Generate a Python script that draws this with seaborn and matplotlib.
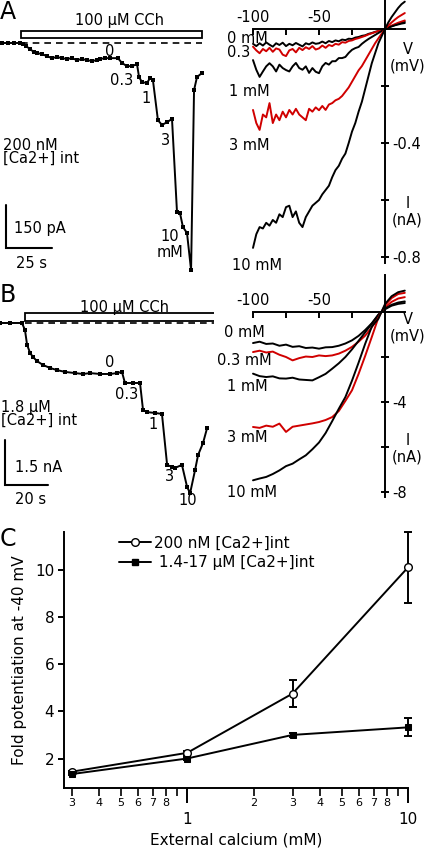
import pandas as pd
import seaborn as sns
import matplotlib
matplotlib.use("Agg")
from matplotlib import pyplot as plt
from matplotlib.patches import Rectangle
from matplotlib.lines import Line2D
from matplotlib.ticker import FixedLocator, FixedFormatter

# ---------------- data ----------------
# A: whole-cell current, 200 nM internal Ca2+ (time in s, current in pA)
trace_a_time = [0, 3.2, 6.5, 9.7, 11.3, 13.0, 15.1, 17.3, 18.9, 21.6,
                24.3, 27.0, 29.7, 32.4, 35.1, 37.8, 40.5, 43.2, 45.9, 48.6,
                51.3, 52.9, 55.6, 58.3, 62.6, 64.8, 67.5, 70.2, 72.9, 74.0,
                75.6, 78.3, 79.9, 81.5, 84.2, 86.4, 89.1, 91.8, 94.5, 96.1,
                97.7, 99.9, 102.1, 103.7, 105.3, 108.0]
trace_a_pA = [0, 0, 0, 0, -4, -11, -21, -32, -35, -39,
              -46, -53, -49, -53, -56, -53, -60, -56, -60, -63,
              -60, -56, -53, -53, -53, -70, -81, -81, -74, -119,
              -137, -140, -123, -130, -270, -287, -277, -266, -592, -595,
              -644, -665, -795, -165, -119, -105]
# B: whole-cell current, 1.8 uM internal Ca2+ (time in s, current in nA)
trace_b_time = [0, 4.7, 10.2, 11.6, 12.6, 14.0, 15.3, 17.2, 20.0, 23.3,
                26.5, 30.2, 34.9, 38.6, 41.9, 46.5, 51.2, 54.4, 56.7, 58.1,
                61.8, 65.1, 66.5, 68.4, 72.1, 75.3, 77.7, 80.0, 81.4, 84.6,
                87.0, 88.4, 90.7, 92.1, 94.4, 96.3]
trace_b_nA = [0, 0, 0, -0.23, -0.73, -1.0, -1.13, -1.27, -1.4, -1.5,
              -1.57, -1.63, -1.67, -1.7, -1.67, -1.7, -1.7, -1.67, -1.63, -2.0,
              -2.0, -2.0, -2.9, -2.97, -3.0, -3.03, -4.73, -4.8, -4.83, -4.73,
              -5.47, -5.67, -4.9, -4.4, -4.0, -3.5]

# I-V relations at each external Ca2+
iv_levels = ["0 mM", "0.3 mM", "1 mM", "3 mM", "10 mM"]
iv_colors = ["black", "#d00000", "black", "#d00000", "black"]

iv_a_mV = [-100, -97.5, -95, -92.5, -90, -87.5, -85, -82.5, -80, -77.5,
           -75, -72.5, -70, -67.5, -65, -62.5, -60, -57.5, -55, -52.5,
           -50, -47.5, -45, -42.5, -40, -37.5, -35, -32.5, -30, -27.5,
           -25, -22.5, -20, -17.5, -15, -12.5, -10, -7.5, -5, -2.5,
           0, 2.5, 5, 7.5, 10, 12.5, 15]
iv_a_0 = [-0.052, -0.060, -0.050, -0.058, -0.047, -0.055, -0.062, -0.050, -0.056, -0.048,
          -0.060, -0.052, -0.057, -0.049, -0.055, -0.061, -0.050, -0.054, -0.047, -0.052,
          -0.050, -0.044, -0.050, -0.042, -0.046, -0.040, -0.043, -0.037, -0.039, -0.034,
          -0.035, -0.030, -0.028, -0.024, -0.022, -0.017, -0.014, -0.010, -0.007, -0.003,
          0.000, 0.005, 0.010, 0.014, 0.018, 0.022, 0.025]
iv_a_03 = [-0.062, -0.075, -0.085, -0.070, -0.078, -0.066, -0.080, -0.068, -0.072, -0.090,
           -0.095, -0.075, -0.070, -0.082, -0.066, -0.074, -0.064, -0.070, -0.060, -0.072,
           -0.068, -0.058, -0.066, -0.056, -0.060, -0.052, -0.055, -0.046, -0.048, -0.042,
           -0.040, -0.035, -0.032, -0.028, -0.024, -0.019, -0.015, -0.011, -0.007, -0.003,
           0.000, 0.006, 0.012, 0.017, 0.022, 0.026, 0.030]
iv_a_1 = [-0.109, -0.143, -0.168, -0.149, -0.131, -0.120, -0.131, -0.149, -0.125, -0.137,
          -0.144, -0.149, -0.131, -0.119, -0.137, -0.143, -0.131, -0.154, -0.137, -0.150,
          -0.155, -0.131, -0.119, -0.125, -0.113, -0.113, -0.102, -0.102, -0.098, -0.084,
          -0.073, -0.067, -0.063, -0.052, -0.043, -0.035, -0.028, -0.021, -0.014, -0.007,
          0.000, 0.005, 0.009, 0.013, 0.016, 0.019, 0.021]
iv_a_3 = [-0.284, -0.330, -0.354, -0.300, -0.310, -0.260, -0.330, -0.300, -0.320, -0.290,
          -0.310, -0.284, -0.300, -0.280, -0.300, -0.310, -0.320, -0.280, -0.290, -0.275,
          -0.285, -0.270, -0.284, -0.265, -0.260, -0.250, -0.245, -0.235, -0.220, -0.205,
          -0.185, -0.165, -0.145, -0.130, -0.110, -0.090, -0.070, -0.050, -0.033, -0.016,
          0.000, 0.012, 0.023, 0.033, 0.042, 0.049, 0.056]
iv_a_10 = [-0.768, -0.720, -0.695, -0.700, -0.680, -0.690, -0.670, -0.680, -0.650, -0.660,
           -0.625, -0.620, -0.660, -0.640, -0.680, -0.695, -0.660, -0.640, -0.620, -0.610,
           -0.600, -0.580, -0.565, -0.550, -0.520, -0.495, -0.480, -0.455, -0.437, -0.400,
           -0.360, -0.330, -0.290, -0.255, -0.210, -0.165, -0.120, -0.085, -0.050, -0.025,
           0.000, 0.023, 0.042, 0.058, 0.074, 0.087, 0.096]

iv_b_mV = [-100, -95, -90, -85, -80, -75, -70, -65, -60, -55,
           -50, -45, -40, -35, -30, -25, -20, -15, -10, -5,
           0, 5, 10, 15]
iv_b_0 = [-1.38, -1.32, -1.42, -1.40, -1.50, -1.45, -1.55, -1.52, -1.60, -1.58,
          -1.63, -1.57, -1.56, -1.50, -1.40, -1.26, -1.06, -0.80, -0.50, -0.12,
          0.12, 0.28, 0.36, 0.40]
iv_b_03 = [-1.78, -1.72, -1.80, -1.76, -1.90, -2.00, -2.15, -2.05, -1.98, -2.00,
           -1.93, -1.96, -1.93, -1.85, -1.72, -1.55, -1.32, -1.05, -0.68, -0.16,
           0.20, 0.45, 0.60, 0.66]
iv_b_1 = [-2.74, -2.85, -2.89, -2.86, -2.95, -2.96, -2.92, -3.00, -3.02, -3.04,
          -2.90, -2.75, -2.52, -2.28, -2.00, -1.66, -1.28, -0.90, -0.52, -0.12,
          0.15, 0.32, 0.42, 0.47]
iv_b_3 = [-5.11, -5.15, -5.05, -5.10, -4.96, -5.33, -5.10, -5.05, -5.00, -4.95,
          -4.89, -4.80, -4.67, -4.40, -3.95, -3.48, -2.75, -1.95, -1.11, -0.25,
          0.30, 0.62, 0.80, 0.85]
iv_b_10 = [-7.48, -7.40, -7.33, -7.20, -7.04, -6.85, -6.74, -6.55, -6.37, -6.10,
           -5.80, -5.38, -4.85, -4.30, -3.78, -3.05, -2.25, -1.41, -0.65, -0.30,
           0.35, 0.70, 0.88, 0.95]

# C: fold potentiation at -40 mV vs external Ca2+
ext_ca = [0.3, 1, 3, 10]
fold_200nM = [1.44, 2.24, 4.75, 10.1]
fold_200nM_err = [0.05, 0.08, 0.58, 1.5]
fold_high = [1.34, 2.0, 3.0, 3.32]
fold_high_err = [0.05, 0.06, 0.1, 0.38]

# ---------------- figure ----------------
sns.set_style("ticks")
plt.rcParams["font.family"] = ["DejaVu Sans"]
plt.rcParams["axes.unicode_minus"] = False
for k in ["text.color", "axes.labelcolor", "xtick.color", "ytick.color", "axes.edgecolor"]:
    plt.rcParams[k] = "black"
FS = 10.5

W, H = 428, 848
fig = plt.figure(figsize=(W / 100, H / 100), dpi=100)


def px_axes(x0, y0, x1, y1):
    return fig.add_axes([x0 / W, 1 - y1 / H, (x1 - x0) / W, (y1 - y0) / H])


def draw_trace(ax, t, y, bar, bar_y, scale_x, scale_y, steps, cell_text, cell_y,
               sbar_label, tbar_label, cch_pos):
    sns.lineplot(x=t, y=y, ax=ax, color="black", lw=1.4, marker="s",
                 markersize=3, markeredgewidth=0, estimator=None, sort=False)
    ax.add_patch(Rectangle((bar[0], bar_y[0]), bar[1] - bar[0], bar_y[1] - bar_y[0],
                           fill=False, lw=1.3, ec="black", clip_on=False))
    ax.plot(bar, [0, 0], color="black", lw=1.2, ls=(0, (4, 3)), clip_on=False)
    ax.text(cch_pos[0], cch_pos[1], "100 \u03bcM CCh", ha="center", va="center", fontsize=FS)
    # scale bars
    ax.plot([scale_x[0], scale_x[0], scale_x[1]], [scale_y[1], scale_y[0], scale_y[0]],
            color="black", lw=1.5, solid_joinstyle="miter")
    ax.text(sbar_label[0], sbar_label[1], sbar_label[2], ha="left", va="center", fontsize=FS)
    ax.text(tbar_label[0], tbar_label[1], tbar_label[2], ha="left", va="center", fontsize=FS)
    ax.text(t[0] + 0.5, cell_y, cell_text, ha="left", va="center", fontsize=FS,
            linespacing=0.85)
    for lx, ly, s in steps:
        ax.text(lx, ly, s, ha="center", va="center", fontsize=FS, linespacing=1.1)
    ax.axis("off")


def draw_iv(ax, mv, curves, xlim, ylim, ybounds, yticks, ylabels, labels, vpos, ipos):
    rows = []
    for lev, vals in zip(iv_levels, curves):
        rows += [{"mV": v, "I": i, "level": lev} for v, i in zip(mv, vals)]
    df = pd.DataFrame(rows)
    sns.lineplot(data=df, x="mV", y="I", hue="level", ax=ax, legend=False,
                 palette=dict(zip(iv_levels, iv_colors)), estimator=None, sort=False,
                 lw=1.4)
    ax.set_xlim(*xlim)
    ax.set_ylim(*ylim)
    for s in ["left", "bottom"]:
        ax.spines[s].set_visible(False)
    ax.spines["top"].set_position(("data", 0))
    ax.spines["top"].set_bounds(-100, 15)
    ax.spines["right"].set_position(("data", 0))
    ax.spines["right"].set_bounds(*ybounds)
    for s in ["top", "right"]:
        ax.spines[s].set_linewidth(1.4)
    ax.xaxis.set_ticks_position("top")
    ax.xaxis.set_major_locator(FixedLocator([-100, -75, -50, -25]))
    ax.xaxis.set_major_formatter(FixedFormatter(["-100", "", "-50", ""]))
    ax.yaxis.set_ticks_position("right")
    ax.yaxis.set_major_locator(FixedLocator(yticks))
    ax.yaxis.set_major_formatter(FixedFormatter(ylabels))
    ax.tick_params(axis="x", direction="in", length=4, width=1.4, pad=3, labelsize=FS)
    ax.tick_params(axis="y", direction="inout", length=6, width=1.4, pad=2, labelsize=FS)
    ax.set_xlabel("")
    ax.set_ylabel("")
    for lx, ly, s in labels:
        ax.text(lx, ly, s, ha="left", va="center", fontsize=FS)
    ax.text(vpos[0], vpos[1], "V\n(mV)", ha="center", va="center", fontsize=FS,
            linespacing=1.15)
    ax.text(ipos[0], ipos[1], "I\n(nA)", ha="center", va="center", fontsize=FS,
            linespacing=1.15)


# ---- panel A ----
ax_a = px_axes(0, 0, 214, 280)
ax_a.set_xlim(-1.08, 114.48)
ax_a.set_ylim(-829.5, 150.5)
draw_trace(ax_a, trace_a_time, trace_a_pA, bar=[10.1, 108.2], bar_y=[18.5, 42],
           scale_x=[2.2, 27.2], scale_y=[-717.5, -567],
           steps=[(57.9, -30, "0"), (64.6, -130, "0.3"), (77.6, -193, "1"),
                  (88.4, -340, "3"), (90.7, -705, "10\nmM")],
           cell_text="200 nM\n[Ca2+] int", cell_y=-381,
           sbar_label=(6.5, -651, "150 pA"), tbar_label=(7.6, -773, "25 s"),
           cch_pos=(63.2, 77))

ax_aiv = px_axes(214, 0, 428, 280)
draw_iv(ax_aiv, iv_a_mV, [iv_a_0, iv_a_03, iv_a_1, iv_a_3, iv_a_10],
        xlim=(-129.55, 32.58), ylim=(-0.8807, 0.1018), ybounds=(-0.82, 0.1018),
        yticks=[-0.2, -0.4, -0.6, -0.8], ylabels=["", "-0.4", "", "-0.8"],
        labels=[(-119.7, -0.032, "0 mM"), (-119.7, -0.084, "0.3"),
                (-118, -0.218, "1 mM"), (-118, -0.41, "3 mM"), (-116, -0.83, "10 mM")],
        vpos=(17, -0.10), ipos=(17, -0.642))

# ---- panel B ----
ax_b = px_axes(0, 280, 214, 520)
ax_b.set_xlim(0, 99.5)
ax_b.set_ylim(-6.567, 1.433)
draw_trace(ax_b, trace_b_time, trace_b_nA, bar=[11.6, 100.9], bar_y=[0.08, 0.33],
           scale_x=[2.3, 22.3], scale_y=[-5.4, -3.9],
           steps=[(51.2, -1.32, "0"), (58.9, -2.4, "0.3"), (71.0, -3.37, "1"),
                  (78.7, -5.12, "3"), (87.5, -5.92, "10")],
           cell_text="1.8 \u03bcM\n[Ca2+] int", cell_y=-3.03,
           sbar_label=(7.0, -4.83, "1.5 nA"), tbar_label=(7.0, -5.9, "20 s"),
           cch_pos=(57.7, 0.53))

ax_biv = px_axes(214, 275, 428, 520)
draw_iv(ax_biv, iv_b_mV, [iv_b_0, iv_b_03, iv_b_1, iv_b_3, iv_b_10],
        xlim=(-129.55, 32.58), ylim=(-9.244, 1.644), ybounds=(-8.2, 1.644),
        yticks=[-2, -4, -6, -8], ylabels=["", "-4", "", "-8"],
        labels=[(-122, -0.93, "0 mM"), (-127, -2.17, "0.3 mM"),
                (-119.5, -3.33, "1 mM"), (-119.5, -5.58, "3 mM"), (-119.5, -8.02, "10 mM")],
        vpos=(17, -0.69), ipos=(17, -6.09))

# ---- panel C ----
ax_c = px_axes(64, 532, 408, 788)
df_c = pd.DataFrame({"ca": ext_ca, "low": fold_200nM, "high": fold_high})
ax_c.errorbar(ext_ca, fold_200nM, yerr=fold_200nM_err, fmt="none", ecolor="black",
              elinewidth=1.4, capsize=3, capthick=1.4, clip_on=False, zorder=1)
ax_c.errorbar(ext_ca, fold_high, yerr=fold_high_err, fmt="none", ecolor="black",
              elinewidth=1.4, capsize=3, capthick=1.4, clip_on=False, zorder=1)
sns.lineplot(data=df_c, x="ca", y="low", ax=ax_c, color="black", lw=1.4, marker="o",
             markersize=5.5, markerfacecolor="white", markeredgecolor="black",
             markeredgewidth=1.0, clip_on=False, zorder=3)
sns.lineplot(data=df_c, x="ca", y="high", ax=ax_c, color="black", lw=1.4, marker="s",
             markersize=5, markerfacecolor="black", markeredgecolor="black",
             clip_on=False, zorder=3)
ax_c.set_xscale("log")
ax_c.set_xlim(0.277, 10)
ax_c.set_ylim(0.75, 11.6)
ax_c.xaxis.set_major_locator(FixedLocator([1, 10]))
ax_c.xaxis.set_major_formatter(FixedFormatter(["1", "10"]))
minor_ticks = [0.3, 0.4, 0.5, 0.6, 0.7, 0.8, 0.9, 2, 3, 4, 5, 6, 7, 8, 9]
minor_labels = ["3", "4", "5", "6", "7", "8", "", "2", "3", "4", "5", "6", "7", "8", ""]
ax_c.xaxis.set_minor_locator(FixedLocator(minor_ticks))
ax_c.xaxis.set_minor_formatter(FixedFormatter(minor_labels))
ax_c.yaxis.set_major_locator(FixedLocator([2, 4, 6, 8, 10]))
ax_c.tick_params(axis="x", which="major", length=11, width=1.4, pad=6, labelsize=FS + 0.5)
ax_c.tick_params(axis="x", which="minor", length=6, width=1.2, pad=1.5, labelsize=8)
ax_c.tick_params(axis="y", length=4, width=1.4, pad=3, labelsize=FS + 0.5)
sns.despine(ax=ax_c)
for s in ["left", "bottom"]:
    ax_c.spines[s].set_linewidth(1.4)
ax_c.set_xlabel("External calcium (mM)", fontsize=FS + 0.5, labelpad=4)
ax_c.set_ylabel("Fold potentiation at -40 mV", fontsize=FS + 0.5, labelpad=6)
handles = [
    Line2D([], [], color="black", lw=1.4, marker="o", markersize=5.5,
           markerfacecolor="white", markeredgecolor="black"),
    Line2D([], [], color="black", lw=1.4, marker="s", markersize=5),
]
ax_c.legend(handles, ["200 nM [Ca2+]int", " 1.4-17 \u03bcM [Ca2+]int"], loc="upper left",
            bbox_to_anchor=(0.16, 0.985), frameon=False, fontsize=FS + 0.5,
            handlelength=2.1, handletextpad=0.2, labelspacing=0.3, borderpad=0,
            borderaxespad=0)

# panel letters
for letter, top in [("A", 0), ("B", 283), ("C", 527)]:
    fig.text(0, 1 - top / H, letter, ha="left", va="top", fontsize=17)

plt.savefig("out.png", dpi=100)
